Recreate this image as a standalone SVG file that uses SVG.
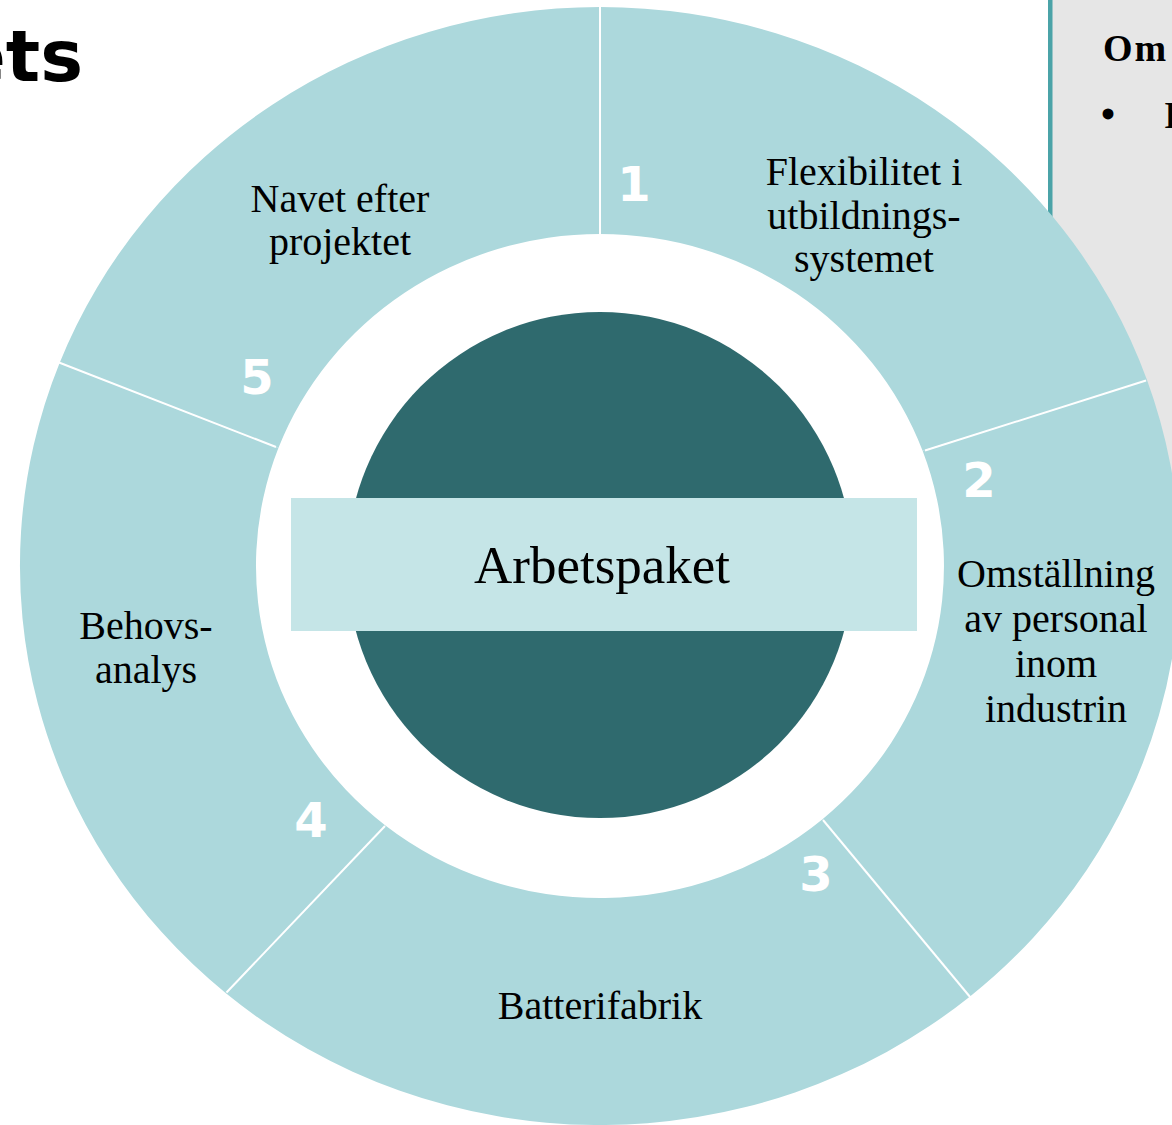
<svg xmlns="http://www.w3.org/2000/svg" width="1172" height="1125" viewBox="0 0 1172 1125">
<style>
.seg{fill:#acd8dc}
.div{stroke:#ffffff;stroke-width:2;fill:none}
.lbl{font-family:"Liberation Serif","Times New Roman",serif;font-size:40px;fill:#000;text-anchor:middle}
.num{font-family:"DejaVu Sans",Verdana,sans-serif;font-weight:bold;font-size:48px;fill:#ffffff;text-anchor:middle}
.ptxt{font-family:"Liberation Serif","Times New Roman",serif;font-weight:bold;fill:#000}
</style>
<rect x="0" y="0" width="1172" height="1125" fill="#ffffff"/>
<g id="title">
<text x="83" y="81" font-family="'DejaVu Sans',Verdana,sans-serif" font-weight="bold" font-size="72" text-anchor="end" fill="#000">ets</text>
</g>
<g id="side-panel">
<rect x="1052" y="0" width="120" height="600" fill="#e6e6e6"/>
<rect x="1048" y="0" width="4.5" height="600" fill="#4ba3a8"/>
<text class="ptxt" x="1103" y="61" font-size="38" letter-spacing="2">Om</text>
<text class="ptxt" x="1108" y="128" font-size="40" text-anchor="middle">•</text>
<text class="ptxt" x="1164" y="128" font-size="37">I</text>
</g>
<g id="segment-1">
<path class="seg" d="M600,7 A580,559 0 0 1 1147.1,380.3 L922.6,450.8 A344,332 0 0 0 600,234 Z"/>
<text class="num" x="634" y="201">1</text>
<text class="lbl" x="864" y="185">Flexibilitet i</text>
<text class="lbl" x="864" y="229">utbildnings-</text>
<text class="lbl" x="864" y="272">systemet</text>
</g>
<g id="segment-2">
<path class="seg" d="M1147.1,380.3 A580,559 0 0 1 969.7,996.7 L822.5,819.2 A344,332 0 0 0 922.6,450.8 Z"/>
<text class="num" x="979" y="497">2</text>
<text class="lbl" x="1056" y="587">Omställning</text>
<text class="lbl" x="1056" y="632">av personal</text>
<text class="lbl" x="1056" y="677">inom</text>
<text class="lbl" x="1056" y="722">industrin</text>
</g>
<g id="segment-3">
<path class="seg" d="M969.7,996.7 A580,559 0 0 1 225.6,993 L385.4,825.5 A344,332 0 0 0 822.5,819.2 Z"/>
<text class="num" x="816" y="891">3</text>
<text class="lbl" x="600" y="1019">Batterifabrik</text>
</g>
<g id="segment-4">
<path class="seg" d="M225.6,993 A580,559 0 0 1 59.6,362.9 L278.4,448.1 A344,332 0 0 0 385.4,825.5 Z"/>
<text class="num" x="311" y="837">4</text>
<text class="lbl" x="146" y="639">Behovs-</text>
<text class="lbl" x="146" y="683">analys</text>
</g>
<g id="segment-5">
<path class="seg" d="M59.6,362.9 A580,559 0 0 1 600,7 L600,234 A344,332 0 0 0 278.4,448.1 Z"/>
<text class="num" x="257" y="394">5</text>
<text class="lbl" x="340" y="212">Navet efter</text>
<text class="lbl" x="340" y="255">projektet</text>
</g>
<g id="dividers">
<line class="div" x1="600" y1="234" x2="600" y2="7"/>
<line class="div" x1="925" y1="450.5" x2="1146" y2="380.5"/>
<line class="div" x1="823" y1="820" x2="970.5" y2="997.5"/>
<line class="div" x1="385" y1="826" x2="226.5" y2="992.5"/>
<line class="div" x1="276" y1="447" x2="59" y2="362.5"/>
</g>
<g id="center">
<circle cx="600" cy="565" r="253" fill="#2f6a6e"/>
<rect x="291" y="498" width="626" height="133" fill="#c5e5e7"/>
<text x="602" y="583" font-family="'Liberation Serif','Times New Roman',serif" font-size="53" text-anchor="middle" fill="#000">Arbetspaket</text>
</g>
</svg>
